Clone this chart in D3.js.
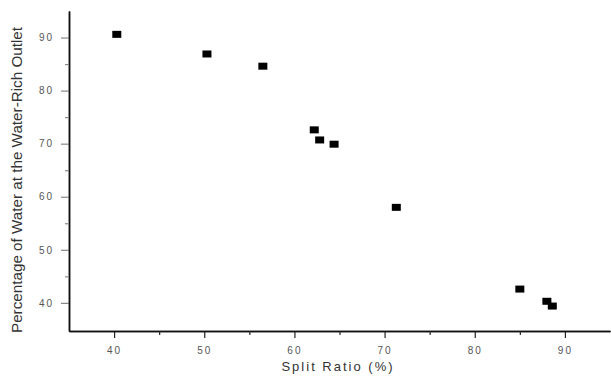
<!DOCTYPE html>
<html><head><meta charset="utf-8">
<script src="https://cdn.jsdelivr.net/npm/d3@7"></script>
<style>body{margin:0;background:#fff}svg{display:block}</style>
</head><body>
<svg id="c" width="611" height="376"></svg>
<script>
const splitRatio = [40.3, 50.3, 56.5, 62.2, 62.8, 64.4, 71.3, 85.0, 88.0, 88.6];
const waterPct   = [90.6, 86.9, 84.6, 72.6, 70.7, 69.9, 58.0, 42.6, 40.3, 39.4];
const xTicks = [40, 50, 60, 70, 80, 90];
const yTicks = [40, 50, 60, 70, 80, 90];
const xMinor = [45, 55, 65, 75, 85];
const yMinor = [45, 55, 65, 75, 85];
const xTitle = "Split Ratio (%)";
const yTitle = "Percentage of Water at the Water-Rich Outlet";

const svg = d3.select("#c");
const x = d3.scaleLinear().domain([35, 95]).range([69, 610]);
const y = d3.scaleLinear().domain([34.7, 95]).range([331, 11]);

const tickFont = "Liberation Sans, Arial, sans-serif";

// X axis
const gx = svg.append("g").attr("transform", `translate(0,${y(34.7)})`);
gx.call(d3.axisBottom(x).tickValues(xTicks).tickSize(7).tickSizeOuter(0).tickFormat(d3.format("d")));
gx.append("g").call(d3.axisBottom(x).tickValues(xMinor).tickSize(4).tickSizeOuter(0).tickFormat(""));
// Y axis
const gy = svg.append("g").attr("transform", `translate(${x(35)},0)`);
gy.call(d3.axisLeft(y).tickValues(yTicks).tickSize(8).tickSizeOuter(0).tickFormat(d3.format("d")));
gy.append("g").call(d3.axisLeft(y).tickValues(yMinor).tickSize(4).tickSizeOuter(0).tickFormat(""));

svg.selectAll(".domain").attr("stroke", "#111").attr("stroke-width", 1.5);
svg.selectAll(".tick line").attr("stroke", "#222").attr("stroke-width", 1.2);
gy.selectAll(".tick line").attr("stroke", "#888");
svg.selectAll(".tick text")
  .attr("font-family", tickFont).attr("font-size", 10).attr("fill", "#555")
  .attr("letter-spacing", "2px");
gx.selectAll(".tick text").attr("dy", "1.3em");
gy.selectAll(".tick text").attr("x", -15);

// Points
svg.append("g").selectAll("rect")
  .data(splitRatio.map((d, i) => [d, waterPct[i]]))
  .join("rect")
  .attr("x", d => x(d[0]) - 4.5)
  .attr("y", d => y(d[1]) - 3.5)
  .attr("width", 9).attr("height", 7)
  .attr("fill", "#000");

// Titles
svg.append("text")
  .attr("x", 338).attr("y", 371)
  .attr("text-anchor", "middle")
  .attr("font-family", tickFont).attr("font-size", 13).attr("fill", "#333")
  .attr("letter-spacing", "2px")
  .text(xTitle);

svg.append("text")
  .attr("transform", "translate(22,180) rotate(-90)")
  .attr("text-anchor", "middle")
  .attr("font-family", tickFont).attr("font-size", 14.5).attr("fill", "#333")
  .attr("textLength", 306).attr("lengthAdjust", "spacingAndGlyphs")
  .text(yTitle);
</script>
</body></html>
